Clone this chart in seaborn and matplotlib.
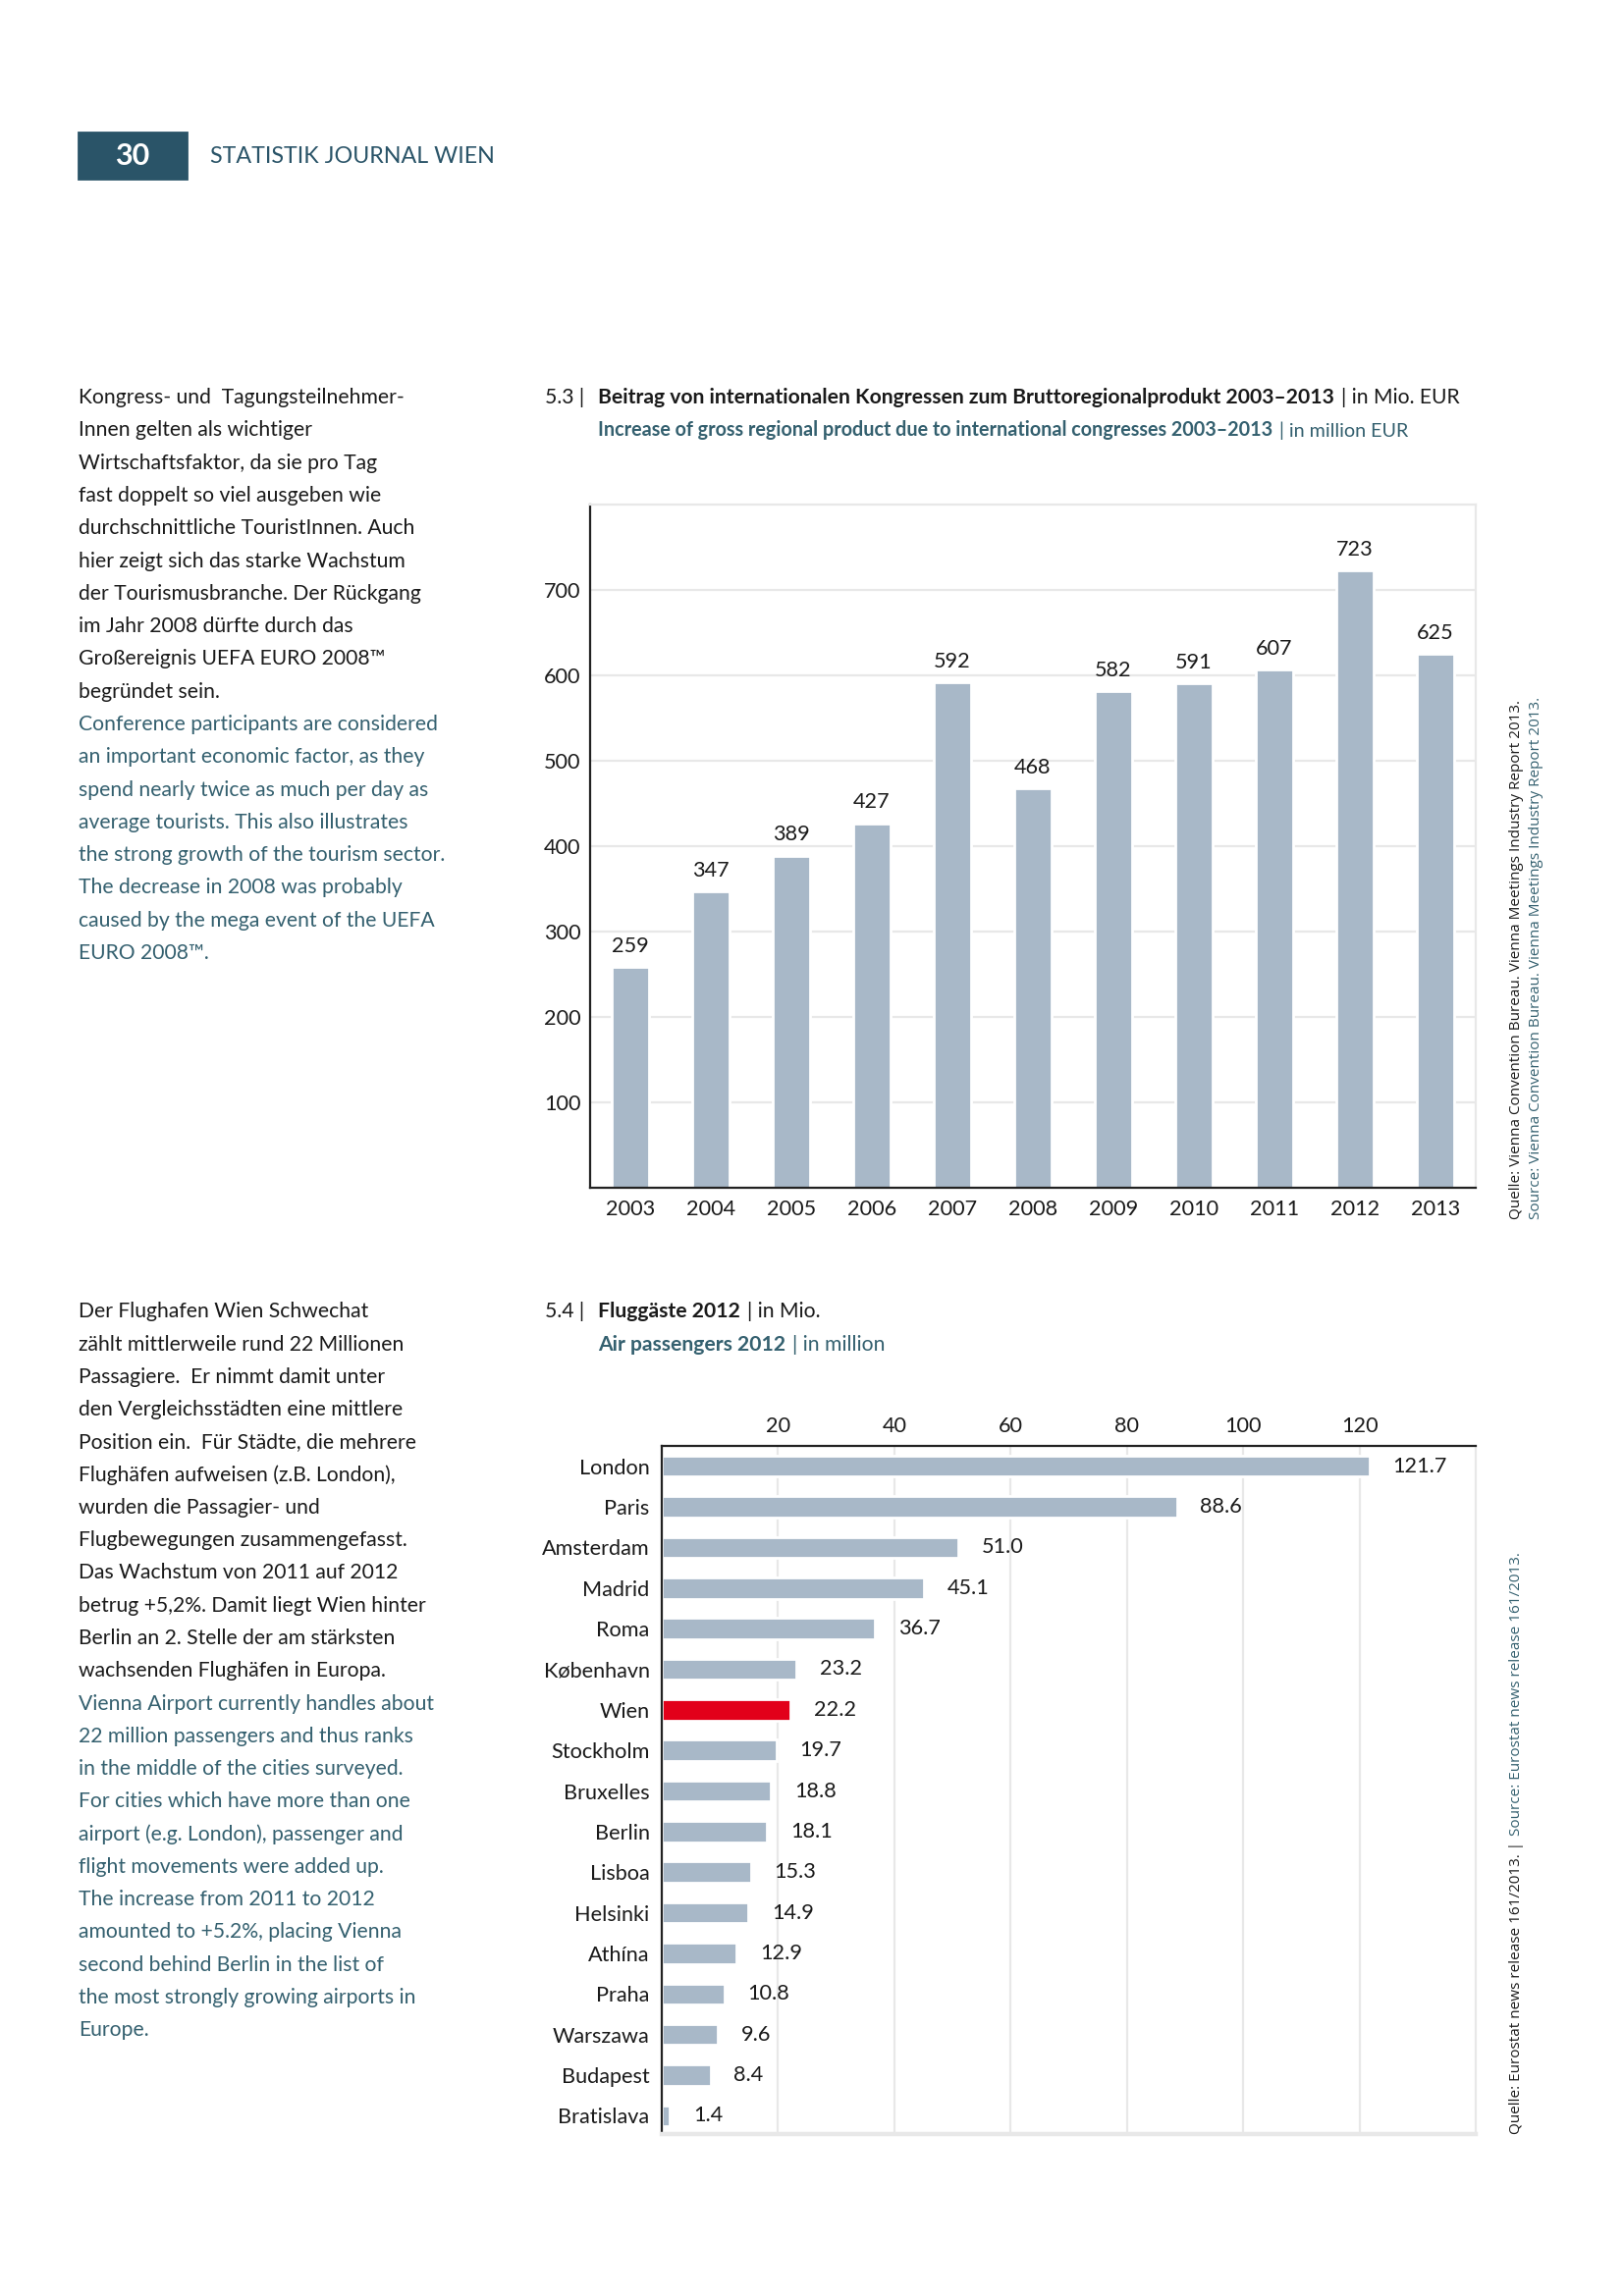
import matplotlib
matplotlib.use("Agg")
import matplotlib.pyplot as plt
from matplotlib.patches import Rectangle
import seaborn as sns

# ==============================================================
# DATA
# ==============================================================
years = ["2003", "2004", "2005", "2006", "2007", "2008",
         "2009", "2010", "2011", "2012", "2013"]
grp_values = [259, 347, 389, 427, 592, 468, 582, 591, 607, 723, 625]
grp_yticks = [100, 200, 300, 400, 500, 600, 700]

cities = ["London", "Paris", "Amsterdam", "Madrid", "Roma", "København", "Wien",
          "Stockholm", "Bruxelles", "Berlin", "Lisboa", "Helsinki", "Athína",
          "Praha", "Warszawa", "Budapest", "Bratislava"]
passengers = [121.7, 88.6, 51.0, 45.1, 36.7, 23.2, 22.2, 19.7, 18.8, 18.1,
              15.3, 14.9, 12.9, 10.8, 9.6, 8.4, 1.4]
pass_xticks = [20, 40, 60, 80, 100, 120]
highlight = "Wien"

text_de_1 = ["Kongress- und  Tagungsteilnehmer-",
             "Innen gelten als wichtiger",
             "Wirtschaftsfaktor, da sie pro Tag",
             "fast doppelt so viel ausgeben wie",
             "durchschnittliche TouristInnen. Auch",
             "hier zeigt sich das starke Wachstum",
             "der Tourismusbranche. Der Rückgang",
             "im Jahr 2008 dürfte durch das",
             "Großereignis UEFA EURO 2008™",
             "begründet sein."]
text_en_1 = ["Conference participants are considered",
             "an important economic factor, as they",
             "spend nearly twice as much per day as",
             "average tourists. This also illustrates",
             "the strong growth of the tourism sector.",
             "The decrease in 2008 was probably",
             "caused by the mega event of the UEFA",
             "EURO 2008™."]
text_de_2 = ["Der Flughafen Wien Schwechat",
             "zählt mittlerweile rund 22 Millionen",
             "Passagiere.  Er nimmt damit unter",
             "den Vergleichsstädten eine mittlere",
             "Position ein.  Für Städte, die mehrere",
             "Flughäfen aufweisen (z.B. London),",
             "wurden die Passagier- und",
             "Flugbewegungen zusammengefasst.",
             "Das Wachstum von 2011 auf 2012",
             "betrug +5,2%. Damit liegt Wien hinter",
             "Berlin an 2. Stelle der am stärksten",
             "wachsenden Flughäfen in Europa."]
text_en_2 = ["Vienna Airport currently handles about",
             "22 million passengers and thus ranks",
             "in the middle of the cities surveyed.",
             "For cities which have more than one",
             "airport (e.g. London), passenger and",
             "flight movements were added up.",
             "The increase from 2011 to 2012",
             "amounted to +5.2%, placing Vienna",
             "second behind Berlin in the list of",
             "the most strongly growing airports in",
             "Europe."]

# ==============================================================
# STYLE
# ==============================================================
BAR = "#a8b8c8"
RED = "#e2001a"
TEAL = "#34606f"
HEAD = "#2a5468"
INK = "#1a1a1a"
GRID = "#e8e8e8"

sns.set_theme(style="white")
plt.rcParams["font.family"] = ["Lato", "DejaVu Sans"]

W, H = 1654, 2339
fig = plt.figure(figsize=(W / 200, H / 200), dpi=200)
fig.patch.set_facecolor("white")


def put(x, y, s, **kw):
    kw.setdefault("va", "center")
    kw.setdefault("ha", "left")
    return fig.text(x / W, 1 - y / H, s, **kw)


def chain(prev, s, gap=2.5, **kw):
    return fig.axes[0].annotate(s, xy=(1, 0), xycoords=prev, xytext=(gap, 0),
                                textcoords="offset points", ha="left", va="bottom",
                                annotation_clip=False, **kw)


# header
fig.patches.append(Rectangle((80 / W, 1 - 182 / H), 110 / W, 47 / H,
                             transform=fig.transFigure, color=HEAD, zorder=0))
put(135, 159, "30", color="white", fontsize=11, fontweight="bold", ha="center")
put(214, 159, "STATISTIK JOURNAL WIEN", color=HEAD, fontsize=8.4)

# left column text
BODY = 7.6
y = 405
for line in text_de_1:
    put(80, y, line, color=INK, fontsize=BODY)
    y += 33.3
for line in text_en_1:
    put(80, y, line, color=TEAL, fontsize=BODY)
    y += 33.3
y = 1336.5
for line in text_de_2:
    put(80, y, line, color=INK, fontsize=BODY)
    y += 33.25
for line in text_en_2:
    put(80, y, line, color=TEAL, fontsize=BODY)
    y += 33.25

# ==============================================================
# CHART 5.3
# ==============================================================
ax1 = fig.add_axes([601 / W, 1 - 1210 / H, 902 / W, 696 / H])
sns.barplot(x=years, y=grp_values, color=BAR, width=0.46, saturation=1, ax=ax1)
ax1.set_xlim(-0.5, len(years) - 0.5)
ax1.set_ylim(0, 800)
ax1.set_yticks(grp_yticks)
ax1.set_xlabel("")
ax1.set_ylabel("")
ax1.set_axisbelow(True)
ax1.yaxis.grid(True, color=GRID, linewidth=0.8)
ax1.tick_params(axis="both", length=0, labelsize=7.8, colors=INK)
ax1.tick_params(axis="y", pad=3.5)
ax1.tick_params(axis="x", pad=4.5)
for side in ["left", "bottom"]:
    ax1.spines[side].set_color("#222222")
    ax1.spines[side].set_linewidth(0.8)
for side in ["top", "right"]:
    ax1.spines[side].set_color(GRID)
    ax1.spines[side].set_linewidth(0.8)
ax1.bar_label(ax1.containers[0], labels=[str(v) for v in grp_values],
              padding=4, fontsize=7.8, color=INK)

# title 5.3
put(555, 405, "5.3 |", color=INK, fontsize=7.6)
t = put(609, 405, "Beitrag von internationalen Kongressen zum Bruttoregionalprodukt 2003–2013",
        color=INK, fontsize=7.6, fontweight="bold")
chain(t, "| in Mio. EUR", color=INK, fontsize=7.6)
t = put(609, 438, "Increase of gross regional product due to international congresses 2003–2013",
        color=TEAL, fontsize=7.1, fontweight="bold")
chain(t, "| in million EUR", color=TEAL, fontsize=7.1)

# source 5.3
SRC = dict(fontsize=5.5, rotation=90, ha="center", va="bottom",
           family=["Open Sans", "DejaVu Sans"])
put(1545, 1242, "Quelle: Vienna Convention Bureau. Vienna Meetings Industry Report 2013.",
    color=INK, **SRC)
put(1564, 1242, "Source: Vienna Convention Bureau. Vienna Meetings Industry Report 2013.",
    color=TEAL, **SRC)

# ==============================================================
# CHART 5.4
# ==============================================================
ax2 = fig.add_axes([674 / W, 1 - 2174 / H, 829 / W, 701 / H])
palette = {c: (RED if c == highlight else BAR) for c in cities}
sns.barplot(x=passengers, y=cities, hue=cities, palette=palette, legend=False,
            orient="h", width=0.52, saturation=1, ax=ax2)
ax2.set_xlim(0, 140)
ax2.set_ylim(len(cities) - 0.55, -0.5)
ax2.set_xticks(pass_xticks)
ax2.xaxis.tick_top()
ax2.set_xlabel("")
ax2.set_ylabel("")
ax2.set_axisbelow(True)
ax2.xaxis.grid(True, color=GRID, linewidth=0.8)
ax2.tick_params(axis="both", length=0, labelsize=7.8, colors=INK)
ax2.tick_params(axis="x", pad=3.5)
ax2.tick_params(axis="y", pad=4.5)
for side in ["left", "top"]:
    ax2.spines[side].set_color("#222222")
    ax2.spines[side].set_linewidth(0.8)
ax2.spines["right"].set_color(GRID)
ax2.spines["right"].set_linewidth(0.8)
ax2.spines["bottom"].set_color(GRID)
ax2.spines["bottom"].set_linewidth(1.6)
for i, v in enumerate(passengers):
    ax2.annotate(f"{v:.1f}", xy=(v, i), xytext=(8.5, 0), textcoords="offset points",
                 ha="left", va="center", fontsize=7.8, color=INK)

# title 5.4
put(555, 1336.5, "5.4 |", color=INK, fontsize=7.6)
t = put(609, 1336.5, "Fluggäste 2012", color=INK, fontsize=7.6, fontweight="bold")
chain(t, "| in Mio.", color=INK, fontsize=7.6)
t = put(609, 1369.5, "Air passengers 2012", color=TEAL, fontsize=7.6, fontweight="bold")
chain(t, "| in million", color=TEAL, fontsize=7.6)

# source 5.4
s1 = put(1545, 2174, "Quelle: Eurostat news release 161/2013. |", color=INK, **SRC)
fig.axes[0].annotate("Source: Eurostat news release 161/2013.", xy=(0.5, 1), xycoords=s1,
                     xytext=(0, 2), textcoords="offset points", color=TEAL,
                     annotation_clip=False, **SRC)

fig.savefig("out.png", dpi=200, facecolor="white")
